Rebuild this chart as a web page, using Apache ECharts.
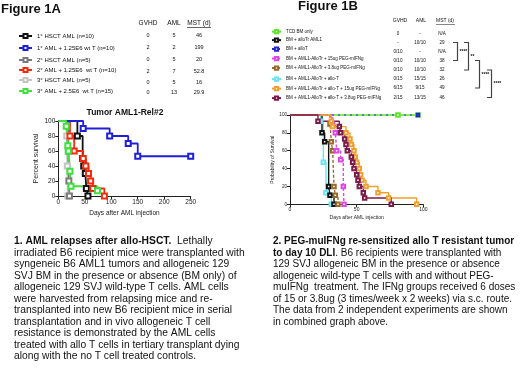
<!DOCTYPE html>
<html><head><meta charset="utf-8">
<script src="https://cdn.jsdelivr.net/npm/echarts@6/dist/echarts.min.js"></script>
<style>html,body{margin:0;padding:0;background:#fff}#c{width:520px;height:370px}</style>
</head><body><div id="c"></div>
<script>
// ---------- Figure 1A data ----------
const namesA = ['1° HSCT AML (n=10)', '1° AML + 1.25E6 wt T (n=10)', '2° HSCT AML (n=5)', '2° AML + 1.25E6  wt T (n=10)', '3° HSCT AML (n=5)', '3° AML + 2.5E6  wt T (n=15)'];
const colorsA = ['#111111', '#1f1fd8', '#7a7a7a', '#f52a0a', '#c4c4c4', '#3ee03e'];
const gvhdA = ['0', '2', '0', '2', '0', '0'];
const amlA = ['5', '2', '5', '7', '5', '13'];
const mstA = ['46', '199', '20', '52.8', '16', '29.9'];
const a1 = [[0,100],[36,80],[46,50],[48,40],[51,30],[53,10],[56,0]];
const a2 = [[0,100],[47,90],[97,80],[132,70],[150,53],[250,53]];
const a3 = [[0,100],[19,60],[20,20],[21,0]];
const a4 = [[0,100],[22,80],[30,60],[47,50],[52,40],[57,30],[61,20],[65,10],[87,0]];
const a5 = [[0,100],[16,80],[17,40],[18,0]];
const a6 = [[0,100],[15,93],[18,67],[19,60],[22,33],[24,13],[74,7]];
const seriesA = [a1, a2, a3, a4, a5, a6];
const xTicksA = [0, 50, 100, 150, 200, 250];
const yTicks = [0, 20, 40, 60, 80, 100];

// ---------- Figure 1B data ----------
const namesB = ['TCD BM only', 'BM + alloTr AML1', 'BM + alloT', 'BM + AML1-AlloTr + 15ug PEG-mIFNg', 'BM + AML1-AlloTr + 3.8ug PEG-mIFNg', 'BM + AML1-AlloTr + allo-T', 'BM + AML1-AlloTr + allo-T + 15ug PEG-mIFNg', 'BM + AML1-AlloTr + allo-T + 3.8ug PEG-mIFNg'];
const colorsB = ['#5ce62a', '#111111', '#2323d0', '#e244ea', '#9a6a2a', '#6ae4f0', '#f0a030', '#7a1a4a'];
const dashedB = [false, false, true, true, true, false, false, false];
const gvhdB = ['0', '-', '0/10', '0/10', '0/10', '0/15', '6/15', '2/15'];
const amlB = ['-', '10/10', '-', '10/10', '10/10', '15/15', '9/15', '13/15'];
const mstB = ['N/A', '29', 'N/A', '38', '32', '26', '49', '46'];
const b1 = [[0,100],[81,100],[96,100]];
const b2 = [[0,100],[24,80],[26,70],[29,20],[30,10],[33,0]];
const b3 = [[0,100],[96,100]];
const b4 = [[0,100],[32,90],[34,80],[35,60],[38,50],[40,20],[40.5,0]];
const b5 = [[0,100],[30,90],[31,70],[32,60],[33,20],[34,10],[36,0]];
const b6 = [[0,100],[23,93],[25,47],[27,13],[31,0]];
const b7 = [[0,100],[31,93],[32,87],[42,80],[45,73],[46,67],[48,60],[49,53],[50,47],[52,40],[53,33],[54,27],[57,20],[66,13],[74,7],[95,0]];
const b8 = [[0,100],[21,93],[37,87],[38,80],[41,73],[42,67],[43,60],[46,53],[47,47],[48,40],[50,33],[51,27],[52,20],[55,13],[56,7],[76,0]];
const seriesB = [b1, b2, b3, b4, b5, b6, b7, b8];
const xTicksB = [0, 50, 100];
// significance brackets: [first row, last row, label]
const bracketsB = [[1, 3, '****'], [1, 4, '**'], [3, 6, '****'], [4, 7, '****']];

// ---------- captions ----------
const paraA = [
  '{b|1. AML relapses after allo-HSCT.}  Lethally',
  'irradiated B6 recipient mice were transplanted with',
  'syngeneic B6 AML1 tumors and allogeneic 129',
  'SVJ BM in the presence or absence (BM only) of',
  'allogeneic 129 SVJ wild-type T cells. AML cells',
  'were harvested from relapsing mice and re-',
  'transplanted into new B6 recipient mice in serial',
  'transplantation and in vivo allogeneic T cell',
  'resistance is demonstrated by the AML cells',
  'treated with allo T cells in tertiary transplant dying',
  'along with the no T cell treated controls.'
];
const paraB = [
  '{b|2. PEG-muIFNg re-sensitized allo T resistant tumor}',
  '{b|to day 10 DLI}. B6 recipients were transplanted with',
  '129 SVJ allogeneic BM in the presence or absence',
  'allogeneic wild-type T cells with and without PEG-',
  'muIFNg  treatment. The IFNg groups received 6 doses',
  'of 15 or 3.8ug (3 times/week x 2 weeks) via s.c. route.',
  'The data from 2 independent experiments are shown',
  'in combined graph above.'
];

// ---------- layout ----------
const FF = '"Liberation Sans", Arial, sans-serif';
const chart = echarts.init(document.getElementById('c'), null, {renderer: 'canvas'});

function txt(x, y, s, size, opt) {
  opt = opt || {};
  const al = opt.align || 'left';
  const st = {text: s, fill: opt.color || '#111', font: (opt.bold ? 'bold ' : '') + size + 'px ' + FF,
    align: al, verticalAlign: 'middle', textAlign: al, textVerticalAlign: 'middle'};
  if (opt.rich) st.rich = opt.rich;
  return {type: 'text', x: x, y: y, silent: true, z: 10, style: st};
}
function line(pts, color, w) {
  return {type: 'polyline', silent: true, z: 10, shape: {points: pts}, style: {stroke: color || '#333', lineWidth: w || 1, fill: null}};
}

const graphics = [];
graphics.push(txt(1, 9, 'Figure 1A', 13, {bold: true}));
graphics.push(txt(298, 6, 'Figure 1B', 13, {bold: true}));
graphics.push(txt(125, 113, 'Tumor AML1-Rel#2', 8.5, {bold: true, align: 'center'}));

// table A
const colA = [148, 174, 199];
graphics.push(txt(colA[0], 23, 'GVHD', 6.5, {align: 'center'}));
graphics.push(txt(colA[1], 23, 'AML', 6.5, {align: 'center'}));
graphics.push(txt(colA[2], 23, 'MST (d)', 6.5, {align: 'center'}));
graphics.push(line([[187, 27.5], [211, 27.5]], '#222', 0.7));
const rowA = [35, 47, 59, 71, 82, 92];
rowA.forEach((y, i) => {
  graphics.push(txt(colA[0], y, gvhdA[i], 5.5, {align: 'center'}));
  graphics.push(txt(colA[1], y, amlA[i], 5.5, {align: 'center'}));
  graphics.push(txt(colA[2], y, mstA[i], 5.5, {align: 'center'}));
});

// table B
const colB = [398, 420, 442];
graphics.push(txt(400, 21, 'GVHD', 5, {align: 'center'}));
graphics.push(txt(421, 21, 'AML', 5, {align: 'center'}));
graphics.push(txt(445, 21, 'MST (d)', 5, {align: 'center'}));
graphics.push(line([[436, 24.5], [455, 24.5]], '#333', 0.6));
const rowB = [33.5, 42.5, 51.5, 60.5, 70, 79, 88, 97.5];
rowB.forEach((y, i) => {
  graphics.push(txt(colB[0], y, gvhdB[i], 4.6, {align: 'center'}));
  graphics.push(txt(colB[1], y, amlB[i], 4.6, {align: 'center'}));
  graphics.push(txt(colB[2], y, mstB[i], 4.6, {align: 'center'}));
});
const brX = [457.5, 468.5, 479.5, 491.5];
bracketsB.forEach((b, k) => {
  const x = brX[k], y0 = rowB[b[0]], y1 = rowB[b[1]];
  graphics.push(line([[x - 4.5, y0], [x, y0], [x, y1], [x - 4.5, y1]], '#444', 1.2));
  graphics.push(txt(x + 2, (y0 + y1) / 2, b[2], 5, {bold: true}));
});

// captions
const richA = {b: {fontWeight: 'bold', fontSize: 10.3, fontFamily: FF, fill: '#111'}};
const richB = {b: {fontWeight: 'bold', fontSize: 10, fontFamily: FF, fill: '#111'}};
paraA.forEach((s, i) => graphics.push(txt(14, 241.5 + i * 11.5, s, 10.3, {rich: richA})));
paraB.forEach((s, i) => graphics.push(txt(273, 241.5 + i * 11.5, s, 10, {rich: richB})));

// legends
const legends = [];
const legTopA = [37, 49, 61, 71, 81, 92];
namesA.forEach((n, i) => legends.push({data: [n], left: 18, top: legTopA[i] - 4, padding: 0, itemWidth: 13, itemHeight: 5, selectedMode: false, textStyle: {fontSize: 6, fontFamily: FF, color: '#111'}}));
const legTopB = [32, 40.5, 49.5, 59, 68.5, 79.5, 89, 98.5];
namesB.forEach((n, i) => legends.push({data: [n], left: 271, top: legTopB[i] - 3, padding: 0, itemWidth: 9, itemHeight: 4, selectedMode: false, textStyle: {fontSize: 4.5, fontFamily: FF, color: '#111'}}));

function km(name, data, idx, color, dashed, size, width, bw) {
  return {
    type: 'line', name: name, xAxisIndex: idx, yAxisIndex: idx, step: 'end', clip: false,
    data: data.map((p, i) => i === 0 ? {value: p, symbol: 'none'} : p),
    symbol: 'emptyRect', symbolSize: size, showAllSymbol: true,
    lineStyle: {color: color, width: width, type: dashed ? [3, 2] : 'solid'},
    itemStyle: {color: color, borderColor: color, borderWidth: bw},
    emphasis: {disabled: true}, animation: false
  };
}
const series = [];
const orderA = [4, 2, 0, 3, 1, 5];
orderA.forEach(i => series.push(km(namesA[i], seriesA[i], 0, colorsA[i], false, 5, 1.8, 1.2)));
const orderB = [0, 2, 5, 1, 4, 3, 6, 7];
orderB.forEach(i => {
  const s = km(namesB[i], seriesB[i], 1, colorsB[i], dashedB[i], 3.5, 1.4, 0.9);
  if (i === 2) { s.lineStyle.type = [2, 4]; s.lineStyle.width = 1.2; s.symbolSize = 2.5; }
  series.push(s);
});

function axisStyle(fs) {
  return {
    axisLine: {show: true, onZero: false, lineStyle: {color: '#222', width: 1}},
    axisTick: {show: true, length: 3, lineStyle: {color: '#222'}},
    axisLabel: {fontSize: fs, fontFamily: FF, color: '#222', margin: 3},
    splitLine: {show: false}
  };
}

chart.setOption({
  animation: false,
  backgroundColor: '#fff',
  grid: [
    {left: 58.3, top: 121, width: 132.4, height: 75},
    {left: 290, top: 115, width: 133.3, height: 89.3}
  ],
  xAxis: [
    Object.assign({type: 'value', gridIndex: 0, min: xTicksA[0], max: xTicksA[xTicksA.length - 1], interval: 50,
      name: 'Days after AML injection', nameLocation: 'middle', nameGap: 14,
      nameTextStyle: {fontSize: 6.5, fontFamily: FF, color: '#222'}}, axisStyle(6.5)),
    Object.assign({type: 'value', gridIndex: 1, min: xTicksB[0], max: xTicksB[xTicksB.length - 1], interval: 50,
      name: 'Days after AML injection', nameLocation: 'middle', nameGap: 11,
      nameTextStyle: {fontSize: 5, fontFamily: FF, color: '#222'}}, axisStyle(5))
  ],
  yAxis: [
    Object.assign({type: 'value', gridIndex: 0, min: yTicks[0], max: yTicks[yTicks.length - 1], interval: 20,
      name: 'Percent survival', nameLocation: 'middle', nameGap: 19,
      nameTextStyle: {fontSize: 7, fontFamily: FF, color: '#222'}}, axisStyle(6.5)),
    Object.assign({type: 'value', gridIndex: 1, min: yTicks[0], max: yTicks[yTicks.length - 1], interval: 20,
      name: 'Probability of Survival', nameLocation: 'middle', nameGap: 15,
      nameTextStyle: {fontSize: 5, fontFamily: FF, color: '#222'}}, axisStyle(4.6))
  ],
  legend: legends,
  series: series,
  graphic: graphics
});
</script>
</body></html>
